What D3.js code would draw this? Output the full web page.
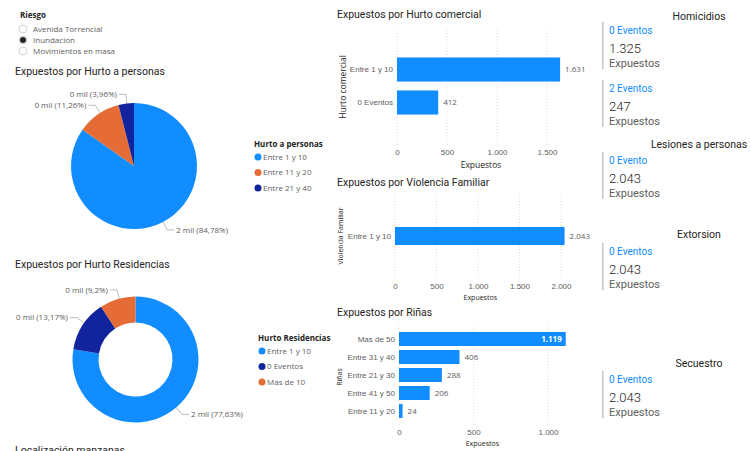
<!DOCTYPE html>
<html>
<head>
<meta charset="utf-8">
<script src="https://cdn.jsdelivr.net/npm/d3@7"></script>
<style>
  body { margin: 0; background: #fff; }
  svg { font-family: "Segoe UI", "Open Sans", sans-serif; }
  .title { font-family: Roboto, "Noto Sans", sans-serif; font-size: 10.5px; fill: #252423; }
  .small { font-size: 8px; fill: #605E5C; }
  .tick text { font-size: 8px; fill: #605E5C; }
  .grid line { stroke: #E1DFDD; stroke-dasharray: 1,2; }
</style>
</head>
<body>
<div id="chart"></div>
<script>
// data
var riesgoOptions = ["Avenida Torrencial", "Inundacion", "Movimientos en masa"];
var riesgoSelected = "Inundacion";

var hurtoPersonasCats = ["Entre 1 y 10", "Entre 11 y 20", "Entre 21 y 40"];
var hurtoPersonasVals = [1732, 230, 81];

var hurtoResCats = ["Entre 1 y 10", "0 Eventos", "Mas de 10"];
var hurtoResVals = [1586, 269, 188];

var comercialCats = ["Entre 1 y 10", "0 Eventos"];
var comercialVals = [1631, 412];

var violenciaCats = ["Entre 1 y 10"];
var violenciaVals = [2043];

var rinasCats = ["Mas de 50", "Entre 31 y 40", "Entre 21 y 30", "Entre 41 y 50", "Entre 11 y 20"];
var rinasVals = [1119, 406, 288, 206, 24];

var kpiTitles = ["Homicidios", "Lesiones a personas", "Extorsion", "Secuestro"];
var kpiCards = [
    { group: 0, label: "0 Eventos", value: 1325 },
    { group: 0, label: "2 Eventos", value: 247 },
    { group: 1, label: "0 Evento", value: 2043 },
    { group: 2, label: "0 Eventos", value: 2043 },
    { group: 3, label: "0 Eventos", value: 2043 }
];

var blue = "#118DFF", navy = "#12239E", orange = "#E66C37";

var locale = d3.formatLocale({ decimal: ",", thousands: ".", grouping: [3], currency: ["", ""] });
var fmt = locale.format(",d");

var svg = d3.select("#chart").append("svg")
    .attr("width", 751)
    .attr("height", 451);

// STEP 1: slicer
svg.append("text").attr("x", 20).attr("y", 18)
    .style("font-size", "8px").style("font-weight", "bold").style("fill", "#252423")
    .text("Riesgo");

var opt = svg.selectAll(".opt").data(riesgoOptions).enter().append("g")
    .attr("transform", (d, i) => `translate(23, ${29 + i * 11})`);
opt.append("circle").attr("r", 4)
    .attr("fill", "#fff").attr("stroke", "#C8C6C4").attr("stroke-width", 0.8);
opt.filter(d => d === riesgoSelected).append("circle").attr("r", 3).attr("fill", "#252423");
opt.append("text").attr("x", 10).attr("dy", "0.35em")
    .style("font-size", "8px").style("fill", "#605E5C")
    .text(d => d);

// STEP 2: pies
function drawPie(cfg) {
    svg.append("text").attr("class", "title").attr("x", 15).attr("y", cfg.titleY).text(cfg.title);

    var pie = d3.pie().sort(null).value(d => d.v);
    var arcs = pie(cfg.cats.map((c, i) => ({ c: c, v: cfg.vals[i], col: cfg.colors[i] })));
    var total = d3.sum(cfg.vals);
    var arc = d3.arc().innerRadius(cfg.inner).outerRadius(cfg.r);

    var g = svg.append("g").attr("transform", `translate(${cfg.cx}, ${cfg.cy})`);
    g.selectAll("path").data(arcs).enter().append("path")
        .attr("d", arc)
        .attr("fill", d => d.data.col);

    var pct = locale.format(",.2~f");
    arcs.forEach(function(d) {
        var span = d.endAngle - d.startAngle;
        var a = d.startAngle + span * (span < 1 ? 0.55 : 0.5);
        var p0 = [Math.sin(a) * cfg.r, -Math.cos(a) * cfg.r];
        var p1 = [Math.sin(a) * (cfg.r + 9), -Math.cos(a) * (cfg.r + 9)];
        var side = Math.sin(a) >= 0 ? 1 : -1;
        var p2 = [p1[0] + side * 7, p1[1]];
        g.append("polyline")
            .attr("points", [p0, p1, p2].map(p => p.join(",")).join(" "))
            .attr("fill", "none").attr("stroke", "#A19F9D").attr("stroke-width", 0.7);
        g.append("text").attr("class", "small")
            .attr("x", p2[0] + side * 2).attr("y", p2[1]).attr("dy", "0.35em")
            .attr("text-anchor", side > 0 ? "start" : "end")
            .text(Math.floor(d.data.v / 1000 + 0.5) + " mil (" + pct(d.data.v / total * 100) + "%)");
    });

    var lg = svg.append("g").attr("transform", `translate(${cfg.lx}, ${cfg.ly})`);
    lg.append("text").attr("y", 0).attr("dy", "0.35em")
        .style("font-size", "8px").style("font-weight", "bold").style("fill", "#252423")
        .text(cfg.legendTitle);
    var item = lg.selectAll(".li").data(arcs).enter().append("g")
        .attr("transform", (d, i) => `translate(0, ${13 + i * 15.5})`);
    item.append("circle").attr("cx", 4).attr("r", 3.5).attr("fill", d => d.data.col);
    item.append("text").attr("x", 9).attr("dy", "0.35em").attr("class", "small").text(d => d.data.c);
}

drawPie({ title: "Expuestos por Hurto a personas", titleY: 75, cats: hurtoPersonasCats, vals: hurtoPersonasVals,
    colors: [blue, orange, navy], cx: 134, cy: 166, r: 63, inner: 0,
    legendTitle: "Hurto a personas", lx: 254, ly: 144 });

drawPie({ title: "Expuestos por Hurto Residencias", titleY: 268, cats: hurtoResCats, vals: hurtoResVals,
    colors: [blue, navy, orange], cx: 135.5, cy: 359.5, r: 63, inner: 37,
    legendTitle: "Hurto Residencias", lx: 258, ly: 338 });

svg.append("text").attr("class", "title").attr("x", 15).attr("y", 454).text("Localización manzanas");

// STEP 3: bar charts
function drawBars(cfg) {
    svg.append("text").attr("class", "title").attr("x", 337).attr("y", cfg.titleY).text(cfg.title);

    var x = d3.scaleLinear().domain([0, cfg.max]).range([cfg.x0, cfg.x1]);
    var y = d3.scaleBand().domain(cfg.cats).range(cfg.yr)
        .paddingInner(cfg.pi).paddingOuter(cfg.pi / 2);

    // gridlines
    svg.append("g").attr("class", "grid")
        .selectAll("line").data(cfg.ticks).enter().append("line")
        .attr("x1", d => x(d)).attr("x2", d => x(d))
        .attr("y1", cfg.gy[0]).attr("y2", cfg.gy[1]);

    var bottom = svg.append("g")
        .attr("transform", `translate(0, ${cfg.tickY})`)
        .call(d3.axisBottom(x).tickValues(cfg.ticks).tickFormat(fmt).tickSize(0));
    bottom.select(".domain").remove();

    var left = svg.append("g")
        .attr("transform", `translate(${cfg.x0}, 0)`)
        .call(d3.axisLeft(y).tickSize(0).tickPadding(4));
    left.select(".domain").remove();

    svg.append("g").selectAll("rect").data(cfg.vals).enter().append("rect")
        .attr("x", x(0))
        .attr("y", (d, i) => y(cfg.cats[i]))
        .attr("width", d => x(d) - x(0))
        .attr("height", y.bandwidth())
        .attr("fill", blue);

    svg.append("g").selectAll("text").data(cfg.vals).enter().append("text")
        .attr("y", (d, i) => y(cfg.cats[i]) + y.bandwidth() / 2)
        .attr("dy", "0.35em")
        .attr("x", d => d > cfg.insideAt ? x(d) - 4 : x(d) + 5)
        .attr("text-anchor", d => d > cfg.insideAt ? "end" : "start")
        .style("font-size", "8px")
        .style("font-weight", d => d > cfg.insideAt ? "bold" : "normal")
        .style("fill", d => d > cfg.insideAt ? "#fff" : "#605E5C")
        .text(d => fmt(d));

    svg.append("text")
        .attr("x", (cfg.x0 + cfg.x1) / 2 - 6).attr("y", cfg.axisY)
        .attr("text-anchor", "middle")
        .style("font-size", cfg.axisFont).style("fill", "#252423")
        .text("Expuestos");

    svg.append("text")
        .attr("transform", `translate(${cfg.yTitleX}, ${cfg.yTitleY}) rotate(-90)`)
        .attr("text-anchor", "middle")
        .style("font-size", cfg.axisFont).style("fill", "#252423")
        .text(cfg.yTitle);
}

drawBars({ title: "Expuestos por Hurto comercial", titleY: 18, cats: comercialCats, vals: comercialVals,
    max: 1800, x0: 397, x1: 577, ticks: [0, 500, 1000, 1500], yr: [53, 119], pi: 0.27,
    gy: [30, 145], tickY: 146, axisY: 168, axisFont: "8.5px", yTitle: "Hurto comercial", yTitleX: 346, yTitleY: 87,
    insideAt: 99999 });

drawBars({ title: "Expuestos por Violencia Familiar", titleY: 186, cats: violenciaCats, vals: violenciaVals,
    max: 2200, x0: 395, x1: 577.6, ticks: [0, 500, 1000, 1500, 2000], yr: [221, 251], pi: 0.4,
    gy: [195, 278], tickY: 280, axisY: 300, axisFont: "7px", yTitle: "Violencia Familiar", yTitleX: 343, yTitleY: 236,
    insideAt: 99999 });

drawBars({ title: "Expuestos por Riñas", titleY: 316, cats: rinasCats, vals: rinasVals,
    max: 1200, x0: 399, x1: 577.8, ticks: [0, 500, 1000], yr: [330, 420], pi: 0.222,
    gy: [325, 425], tickY: 426, axisY: 446, axisFont: "7px", yTitle: "Riñas", yTitleX: 342, yTitleY: 377,
    insideAt: 1000 });

// STEP 4: KPI cards
var titleY = [16, 144, 234, 363];
svg.selectAll(".kt").data(kpiTitles).enter().append("text")
    .attr("x", 699).attr("y", (d, i) => titleY[i]).attr("dy", "0.35em")
    .attr("text-anchor", "middle")
    .attr("class", "title")
    .text(d => d);

var cardY = [22, 80, 152, 243, 371];
var card = svg.selectAll(".card").data(kpiCards).enter().append("g")
    .attr("transform", (d, i) => `translate(602, ${cardY[i]})`);
card.append("rect").attr("width", 1.5).attr("height", 47).attr("fill", "#C8C6C4");
card.append("text").attr("x", 7).attr("y", 8).attr("dy", "0.35em")
    .style("font-family", "Roboto, sans-serif").style("font-size", "10px").style("fill", blue)
    .text(d => d.label);
card.append("text").attr("x", 7).attr("y", 26).attr("dy", "0.35em")
    .style("font-family", "Roboto, sans-serif").style("font-size", "13px").style("font-weight", 300)
    .style("fill", "#252423")
    .text(d => fmt(d.value));
card.append("text").attr("x", 7).attr("y", 41).attr("dy", "0.35em")
    .style("font-family", "Roboto, sans-serif").style("font-size", "11px").style("fill", "#605E5C")
    .text("Expuestos");
</script>
</body>
</html>
